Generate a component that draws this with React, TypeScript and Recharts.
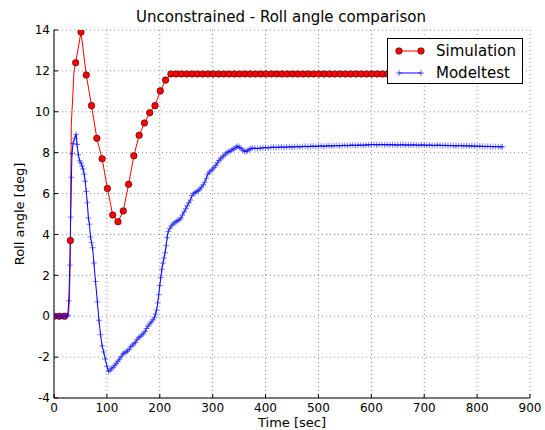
import { LineChart, Line, XAxis, YAxis, CartesianGrid, Legend } from "recharts";

const FONT = "'DejaVu Sans', sans-serif";

const xTicks = [0, 100, 200, 300, 400, 500, 600, 700, 800, 900];
const yTicks = [-4, -2, 0, 2, 4, 6, 8, 10, 12, 14];

// Simulation: solid red trace (with the extra samples on the fast rise)
const simLine: [number, number][] = [
  [0, 0], [10, 0], [20, 0], [27.5, 0], [29.5, 1.2], [31, 3.7], [32.7, 9.4], [34, 10.0],
  [37.8, 11.95], [41, 12.4], [51, 13.9], [61, 11.8], [71, 10.3], [81, 8.7], [91, 7.7],
  [101, 6.25], [111, 4.95], [121, 4.62], [131, 5.15], [141, 6.45], [151, 7.85],
  [161, 8.85], [171, 9.45], [181, 9.95], [191, 10.3], [201, 11.02], [211, 11.55],
  [221, 11.85], [851, 11.85],
];

// Simulation: circle markers every 10 s
const simMarkers: [number, number][] = [
  [0, 0], [10, 0], [20, 0], [31, 3.7], [41, 12.4], [51, 13.9], [61, 11.8], [71, 10.3],
  [81, 8.7], [91, 7.7], [101, 6.25], [111, 4.95], [121, 4.62], [131, 5.15], [141, 6.45],
  [151, 7.85], [161, 8.85], [171, 9.45], [181, 9.95], [191, 10.3], [201, 11.02],
  [211, 11.55], [221, 11.85], [231, 11.85], [241, 11.85], [251, 11.85], [261, 11.85],
  [271, 11.85], [281, 11.85], [291, 11.85], [301, 11.85], [311, 11.85], [321, 11.85],
  [331, 11.85], [341, 11.85], [351, 11.85], [361, 11.85], [371, 11.85], [381, 11.85],
  [391, 11.85], [401, 11.85], [411, 11.85], [421, 11.85], [431, 11.85], [441, 11.85],
  [451, 11.85], [461, 11.85], [471, 11.85], [481, 11.85], [491, 11.85], [501, 11.85],
  [511, 11.85], [521, 11.85], [531, 11.85], [541, 11.85], [551, 11.85], [561, 11.85],
  [571, 11.85], [581, 11.85], [591, 11.85], [601, 11.85], [611, 11.85], [621, 11.85],
  [631, 11.85], [641, 11.85], [651, 11.85], [661, 11.85], [671, 11.85], [681, 11.85],
  [691, 11.85], [701, 11.85], [711, 11.85], [721, 11.85], [731, 11.85], [741, 11.85],
  [751, 11.85], [761, 11.85], [771, 11.85], [781, 11.85], [791, 11.85], [801, 11.85],
  [811, 11.85], [821, 11.85], [831, 11.85], [841, 11.85], [851, 11.85],
];

// Model test measurements
const modeltest: [number, number][] = [
  [0, 0], [3, 0], [6, 0], [9, 0], [12, 0], [15, 0], [18, 0], [21, 0], [24, 0], [26, 0.05],
  [28, 0.75], [30, 2.5], [31.5, 4.85], [33, 6.8], [34, 7.95], [36, 8.45], [39, 8.7],
  [42, 8.9], [43.5, 8.4], [46, 7.9], [48.5, 7.6], [51, 7.5], [53, 7.35], [55, 7.2],
  [57, 6.95], [59, 6.6], [61, 6.1], [63, 5.55], [65, 4.8], [67, 4.5], [69, 3.88],
  [71, 3.6], [73, 3.35], [75.5, 2.6], [78.5, 1.7], [82, 0.7], [85, -0.2], [88, -0.9],
  [91, -1.45], [94, -1.75], [97, -2.1], [100, -2.45], [103, -2.7], [106, -2.65],
  [109, -2.55], [112, -2.5], [115, -2.4], [118, -2.3], [121, -2.2], [124, -2.1],
  [127, -1.98], [130, -1.85], [133, -1.8], [136, -1.75], [139, -1.7], [142, -1.62],
  [145, -1.5], [148, -1.42], [151, -1.35], [154, -1.28], [157, -1.15], [160, -1.05],
  [163, -1.0], [166, -0.92], [169, -0.85], [172, -0.75], [175, -0.6], [178, -0.48],
  [181, -0.38], [184, -0.28], [187, -0.18], [190, -0.05], [192, 0.1], [194, 0.3],
  [196, 0.65], [198, 1.05], [200, 1.5], [202, 1.9], [204, 2.3], [206, 2.6], [208, 2.85],
  [210, 3.1], [212, 3.45], [214, 3.85], [216, 4.15], [219, 4.3], [222, 4.42], [225, 4.5],
  [228, 4.57], [231, 4.62], [234, 4.68], [237, 4.72], [240, 4.8], [243, 4.95], [246, 5.1],
  [249, 5.25], [252, 5.4], [255, 5.55], [258, 5.68], [261, 5.9], [264, 6.0], [267, 6.05],
  [270, 6.1], [273, 6.15], [276, 6.22], [279, 6.32], [282, 6.42], [285, 6.55], [288, 6.75],
  [291, 6.95], [294, 7.05], [297, 7.12], [300, 7.2], [303, 7.28], [306, 7.38], [309, 7.5],
  [312, 7.62], [315, 7.7], [318, 7.78], [321, 7.85], [324, 7.93], [327, 8.0], [330, 8.05],
  [333, 8.08], [336, 8.12], [339, 8.18], [342, 8.22], [345, 8.28], [348, 8.32], [351, 8.25],
  [354, 8.2], [357, 8.12], [360, 8.08], [363, 8.05], [366, 8.1], [369, 8.15], [372, 8.2],
  [375, 8.22], [380, 8.22], [385, 8.2], [390, 8.22], [395, 8.24], [400, 8.25], [405, 8.23],
  [410, 8.26], [415, 8.27], [420, 8.25], [425, 8.27], [430, 8.28], [435, 8.26], [440, 8.28],
  [445, 8.29], [450, 8.27], [455, 8.29], [460, 8.3], [465, 8.28], [470, 8.3], [475, 8.31],
  [480, 8.29], [485, 8.31], [490, 8.32], [495, 8.3], [500, 8.32], [505, 8.33], [510, 8.31],
  [515, 8.33], [520, 8.34], [525, 8.32], [530, 8.34], [535, 8.35], [540, 8.33], [545, 8.35],
  [550, 8.36], [555, 8.34], [560, 8.36], [565, 8.37], [570, 8.35], [575, 8.37], [580, 8.37],
  [585, 8.36], [590, 8.38], [595, 8.38], [600, 8.39], [605, 8.4], [610, 8.38], [615, 8.39],
  [620, 8.4], [625, 8.38], [630, 8.39], [635, 8.38], [640, 8.39], [645, 8.38], [650, 8.37],
  [655, 8.39], [660, 8.38], [665, 8.37], [670, 8.38], [675, 8.37], [680, 8.38], [685, 8.37],
  [690, 8.36], [695, 8.38], [700, 8.37], [705, 8.36], [710, 8.37], [715, 8.36], [720, 8.35],
  [725, 8.37], [730, 8.36], [735, 8.35], [740, 8.36], [745, 8.34], [750, 8.35], [755, 8.34],
  [760, 8.33], [765, 8.35], [770, 8.34], [775, 8.33], [780, 8.34], [785, 8.32], [790, 8.33],
  [795, 8.32], [800, 8.31], [805, 8.32], [810, 8.31], [815, 8.3], [820, 8.31], [825, 8.3],
  [830, 8.29], [835, 8.3], [840, 8.29], [845, 8.28], [848, 8.29],
];

const rows = (pts: [number, number][]) => pts.map(([t, v]) => ({ t, v }));

const tickStyle = { fill: "#000", fontSize: 12, fontFamily: FONT };
const axisLabelStyle = { fill: "#000", fontSize: 13, fontFamily: FONT };

function PlusDot(props: any) {
  const { cx, cy, index } = props;
  if (cx == null || cy == null) return null;
  return (
    <path
      key={`p${index}`}
      d={`M${cx - 3},${cy}h6M${cx},${cy - 3}v6`}
      stroke="#0000ff"
      strokeOpacity={0.5}
      strokeWidth={1}
      fill="none"
    />
  );
}

function LegendBox() {
  return (
    <div
      style={{
        boxSizing: "border-box",
        width: 136,
        height: 46,
        border: "1px solid #000",
        background: "#fff",
        fontFamily: FONT,
        fontSize: 15,
        color: "#000",
        paddingTop: 1,
      }}
    >
      <div style={{ display: "flex", alignItems: "center", height: 22 }}>
        <svg width={48} height={22}>
          <line x1={11} y1={11} x2={33} y2={11} stroke="#ff0000" strokeWidth={1} />
          <circle cx={11} cy={11} r={3.3} fill="#ff0000" stroke="#000" strokeWidth={0.5} />
          <circle cx={33} cy={11} r={3.3} fill="#ff0000" stroke="#000" strokeWidth={0.5} />
        </svg>
        <span>Simulation</span>
      </div>
      <div style={{ display: "flex", alignItems: "center", height: 22 }}>
        <svg width={48} height={22}>
          <line x1={11} y1={11} x2={33} y2={11} stroke="#0000ff" strokeWidth={1} />
          <path d="M8,11h6M11,8v6M30,11h6M33,8v6" stroke="#0000ff" strokeOpacity={0.6} />
        </svg>
        <span>Modeltest</span>
      </div>
    </div>
  );
}

export default function App() {
  return (
    <div style={{ position: "fixed", left: 0, top: 0, width: 545, height: 430, background: "#fff" }}>
      <div
        style={{
          position: "absolute",
          left: 0,
          top: 8,
          width: 562,
          textAlign: "center",
          fontFamily: FONT,
          fontSize: 15,
          color: "#000",
        }}
      >
        Unconstrained - Roll angle comparison
      </div>
      <LineChart width={545} height={430} margin={{ top: 30, right: 15, bottom: 0, left: 0 }}>
        <CartesianGrid stroke="#888" strokeDasharray="1 3" />
        <XAxis
          dataKey="t"
          type="number"
          domain={[0, 900]}
          ticks={xTicks}
          allowDataOverflow
          height={32}
          tickSize={-4}
          tickMargin={9}
          tick={tickStyle}
          axisLine={{ stroke: "#000" }}
          tickLine={{ stroke: "#000" }}
          label={{ value: "Time [sec]", position: "insideBottom", offset: 3, style: axisLabelStyle }}
        />
        <XAxis
          xAxisId="top"
          orientation="top"
          type="number"
          domain={[0, 900]}
          ticks={xTicks}
          height={0}
          tickSize={-4}
          tickFormatter={() => ""}
          axisLine={{ stroke: "#000" }}
          tickLine={{ stroke: "#000" }}
        />
        <YAxis
          type="number"
          domain={[-4, 14]}
          ticks={yTicks}
          allowDataOverflow
          width={54}
          tickSize={-4}
          tickMargin={8}
          tick={tickStyle}
          axisLine={{ stroke: "#000" }}
          tickLine={{ stroke: "#000" }}
          label={{
            value: "Roll angle [deg]",
            angle: -90,
            position: "insideLeft",
            offset: 19,
            style: { ...axisLabelStyle, textAnchor: "middle" },
          }}
        />
        <YAxis
          yAxisId="right"
          orientation="right"
          type="number"
          domain={[-4, 14]}
          ticks={yTicks}
          width={0}
          tickSize={-4}
          tickFormatter={() => ""}
          axisLine={{ stroke: "#000" }}
          tickLine={{ stroke: "#000" }}
        />
        <Line
          data={rows(simLine)}
          dataKey="v"
          stroke="#ff0000"
          strokeWidth={1}
          dot={false}
          activeDot={false}
          isAnimationActive={false}
          legendType="none"
        />
        <Line
          data={rows(simMarkers)}
          dataKey="v"
          stroke="none"
          strokeWidth={0}
          dot={{ r: 3.3, fill: "#ff0000", stroke: "#000", strokeWidth: 0.5 }}
          activeDot={false}
          isAnimationActive={false}
          name="Simulation"
        />
        <Line
          data={rows(modeltest)}
          dataKey="v"
          stroke="#0000ff"
          strokeWidth={1}
          dot={PlusDot}
          activeDot={false}
          isAnimationActive={false}
          name="Modeltest"
        />
        <Legend
          layout="horizontal"
          verticalAlign="middle"
          align="center"
          wrapperStyle={{ left: 387, top: 38, width: 136, height: 46 }}
          content={() => <LegendBox />}
        />
      </LineChart>
    </div>
  );
}
